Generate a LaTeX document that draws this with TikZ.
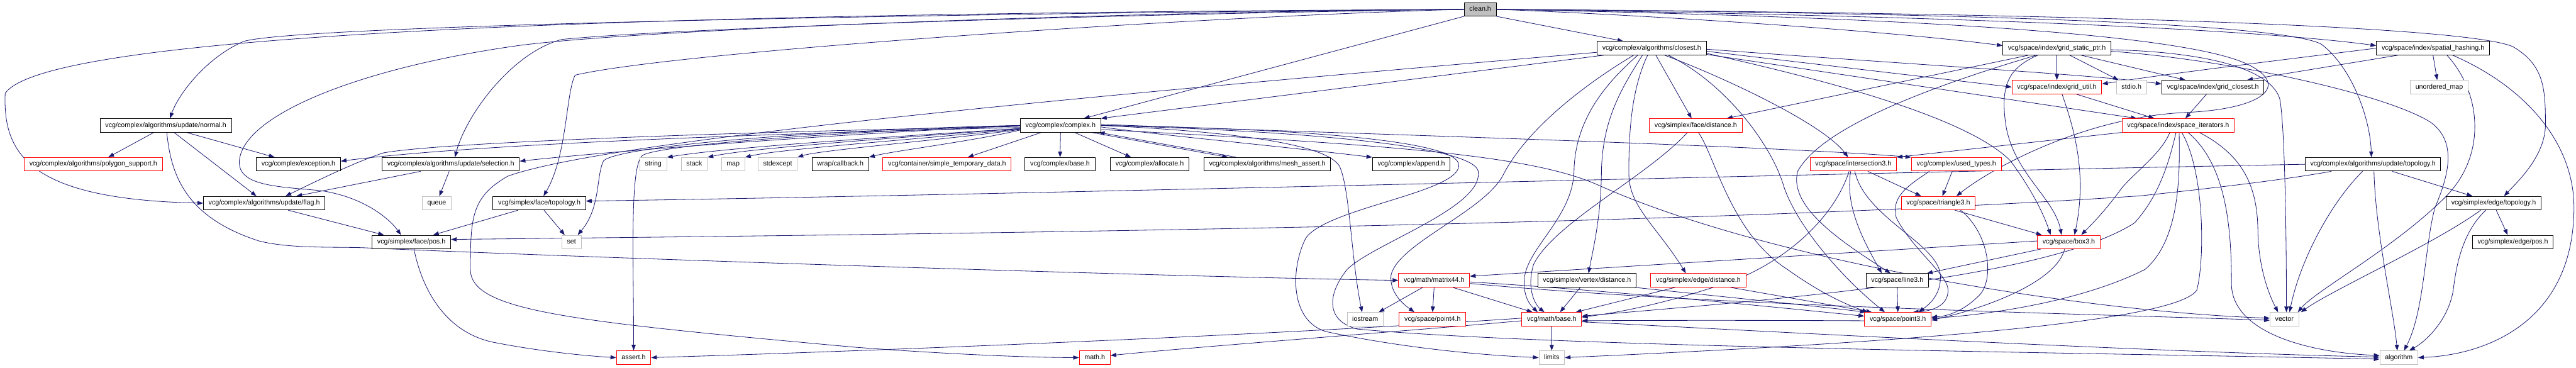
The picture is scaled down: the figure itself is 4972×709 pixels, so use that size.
\documentclass[tikz,border=0pt]{standalone}
\usepackage{fontspec}
\newfontfamily\dfont{Liberation Sans}
\usetikzlibrary{arrows.meta,backgrounds}
\definecolor{edgec}{HTML}{191970}
\definecolor{redb}{HTML}{FF0000}
\definecolor{grayb}{HTML}{BFBFBF}
\begin{document}
\begin{tikzpicture}[x=1pt,y=-1pt,
  nb/.style={draw=black,line width=1.2pt,fill=white,font={\dfont\fontsize{13}{15}\selectfont},
    inner xsep=10pt,inner ysep=0pt,minimum height=26pt,text height=9.5pt,text depth=2.7pt},
  nr/.style={nb,draw=redb},
  ng/.style={nb,draw=grayb,line width=1pt},
  e/.style={draw=edgec,line width=1pt,-{Triangle[length=11pt,width=8pt]}}]
\useasboundingbox (0,0) rectangle (4972,709);
% nodes
\node[nb,fill=grayb] (clean) at (2857,18) {clean.h};
\node[nb] (closest) at (3188,93) {vcg/complex/algorithms/closest.h};
\node[nb] (gsp) at (3970,93) {vcg/space/index/grid\_static\_ptr.h};
\node[nb] (sph) at (4696,93) {vcg/space/index/spatial\_hashing.h};
\node[nr] (gutil) at (3970,168) {vcg/space/index/grid\_util.h};
\node[ng] (stdio) at (4114,168) {stdio.h};
\node[nb] (gclosest) at (4271,168) {vcg/space/index/grid\_closest.h};
\node[ng] (umap) at (4708,168) {unordered\_map};
\node[nb] (normal) at (320,242) {vcg/complex/algorithms/update/normal.h};
\node[nb] (complex) at (2047,242) {vcg/complex/complex.h};
\node[nr] (fdist) at (3273,242) {vcg/simplex/face/distance.h};
\node[nr] (spit) at (4204,242) {vcg/space/index/space\_iterators.h};
\node[nr] (polysup) at (180,317) {vcg/complex/algorithms/polygon\_support.h};
\node[nb] (exception) at (576,317) {vcg/complex/exception.h};
\node[nb] (selection) at (870,317) {vcg/complex/algorithms/update/selection.h};
\node[ng] (string) at (1261,317) {string};
\node[ng] (stack) at (1340,317) {stack};
\node[ng] (map) at (1415,317) {map};
\node[ng] (stdexcept) at (1501,317) {stdexcept};
\node[nb] (callback) at (1622,317) {wrap/callback.h};
\node[nr] (simpletemp) at (1828,317) {vcg/container/simple\_temporary\_data.h};
\node[nb] (cbase) at (2046,317) {vcg/complex/base.h};
\node[nb] (allocate) at (2219,317) {vcg/complex/allocate.h};
\node[nb] (meshassert) at (2446,317) {vcg/complex/algorithms/mesh\_assert.h};
\node[nb] (append) at (2724,317) {vcg/complex/append.h};
\node[nr] (inter3) at (3577,317) {vcg/space/intersection3.h};
\node[nr] (usedtypes) at (3776,317) {vcg/complex/used\_types.h};
\node[nb] (utopo) at (4580,317) {vcg/complex/algorithms/update/topology.h};
\node[nb] (flag) at (510,392) {vcg/complex/algorithms/update/flag.h};
\node[ng] (queue) at (843,392) {queue};
\node[nb] (ftopo) at (1041,392) {vcg/simplex/face/topology.h};
\node[nr] (tri3) at (3741,392) {vcg/space/triangle3.h};
\node[nb] (etopo) at (4813,392) {vcg/simplex/edge/topology.h};
\node[nb] (fpos) at (794,467) {vcg/simplex/face/pos.h};
\node[ng] (set) at (1103,467) {set};
\node[nr] (box3) at (3993,467) {vcg/space/box3.h};
\node[nb] (epos) at (4850,467) {vcg/simplex/edge/pos.h};
\node[nr] (m44) at (2768,541) {vcg/math/matrix44.h};
\node[nb] (vdist) at (3063,541) {vcg/simplex/vertex/distance.h};
\node[nr] (edist) at (3278,541) {vcg/simplex/edge/distance.h};
\node[nb] (line3) at (3662,541) {vcg/space/line3.h};
\node[ng] (iostream) at (2635,616) {iostream};
\node[nr] (point4) at (2765,616) {vcg/space/point4.h};
\node[nr] (mbase) at (2995,616) {vcg/math/base.h};
\node[nr] (point3) at (3663,616) {vcg/space/point3.h};
\node[ng] (vector) at (4409,616) {vector};
\node[nr] (assert) at (1223,690) {assert.h};
\node[nr] (math) at (2113,690) {math.h};
\node[ng] (limits) at (2995,690) {limits};
\node[ng] (algorithm) at (4630,690) {algorithm};
\begin{scope}[on background layer]
% clean.h
\draw[e] (clean.west) .. controls (1500,25) and (100,50) .. (10,180) .. controls (5,300) and (60,385) .. (flag.west);
\draw[e] (clean.west) .. controls (1600,28) and (560,52) .. (470,80) .. controls (400,110) and (345,180) .. ([xshift=8pt]normal.north);
\draw[e] (clean.west) .. controls (2200,22) and (1250,55) .. (1000,88) .. controls (700,130) and (470,220) .. (462,310) .. controls (458,360) and (540,360) .. (620,368) .. controls (700,380) and (750,420) .. ([xshift=-20pt]fpos.north);
\draw[e] (clean.west) .. controls (2100,28) and (1300,55) .. (1085,76) .. controls (990,100) and (900,220) .. ([xshift=8pt]selection.north);
\draw[e] (clean.west) .. controls (2300,32) and (1300,100) .. (1110,145) .. controls (1092,180) and (1095,300) .. ([xshift=8pt]ftopo.north);
\draw[e] (clean.south west) -- ([xshift=45pt]complex.north);
\draw[e] (clean.south east) -- ([xshift=-55pt]closest.north);
\draw[e] (clean.east) .. controls (3200,30) and (3650,60) .. ([yshift=5pt]gsp.west);
\draw[e] (clean.east) .. controls (3600,28) and (4300,50) .. ([yshift=5pt]sph.west);
\draw[e] (clean.east) .. controls (3800,25) and (4400,45) .. (4480,85) .. controls (4540,130) and (4575,230) .. ([xshift=-3pt]utopo.north);
\draw[e] (clean.east) .. controls (4000,25) and (4760,50) .. (4850,90) .. controls (4910,125) and (4913,170) .. (4913,240) .. controls (4913,300) and (4860,350) .. ([xshift=20pt]etopo.north);
\draw[e] (clean.east) .. controls (3500,30) and (4200,55) .. (4340,125) .. controls (4420,165) and (4370,210) .. (4220,217) .. controls (4030,225) and (3850,320) .. ([xshift=35pt]tri3.north);
% normal.h
\draw[e] ([xshift=-23pt]normal.south) -- ([xshift=29pt]polysup.north);
\draw[e] ([xshift=40pt]normal.south) -- ([xshift=-46pt]exception.north);
\draw[e] ([xshift=16pt]normal.south) -- ([xshift=-15pt]flag.north);
\draw[e] ([xshift=2pt]normal.south) .. controls (330,340) and (360,420) .. (500,465) .. controls (560,480) and (640,476) .. (700,478) .. controls (1200,500) and (2300,535) .. (m44.west);
% complex.h
\draw[e] ([yshift=-2pt]complex.west) .. controls (1400,255) and (850,275) .. (740,295) .. controls (680,315) and (610,350) .. ([xshift=41pt]flag.north);
\draw[e] ([yshift=-4pt]complex.west) .. controls (1400,260) and (900,280) .. ([yshift=6pt]exception.east);
\draw[e] (complex.west) .. controls (1600,260) and (1200,290) .. ([yshift=6pt]selection.east);
\draw[e] ([yshift=-6pt]complex.west) .. controls (1700,265) and (1400,285) .. (string.north east);
\draw[e] ([yshift=-6pt]complex.west) .. controls (1750,265) and (1450,285) .. (stack.north east);
\draw[e] ([yshift=-7pt]complex.west) .. controls (1780,268) and (1500,288) .. (map.north east);
\draw[e] ([yshift=-8pt]complex.west) .. controls (1820,270) and (1580,290) .. (stdexcept.north east);
\draw[e] ([yshift=-9pt]complex.west) .. controls (1880,272) and (1720,292) .. (callback.north east);
\draw[e] ([xshift=-37pt]complex.south) -- ([xshift=40pt]simpletemp.north);
\draw[e] (complex.south) -- (cbase.north);
\draw[e] ([xshift=27pt]complex.south) -- ([xshift=-36pt]allocate.north);
\draw[e] ([xshift=60pt]complex.south) -- ([xshift=-76pt]meshassert.north);
\draw[e] ([xshift=-60pt]meshassert.north) -- ([xshift=-4pt]complex.south east);
\draw[e] ([yshift=-3pt]complex.east) .. controls (2250,262) and (2450,280) .. (append.north west);
\draw[e] (complex.west) .. controls (1600,250) and (1200,280) .. (1165,310) .. controls (1150,340) and (1160,400) .. ([xshift=12pt]set.north);
\draw[e] (complex.west) .. controls (1600,255) and (1270,280) .. (1240,300) .. controls (1215,320) and (1223,500) .. (assert.north);
\draw[e] (complex.east) .. controls (2400,255) and (2560,280) .. (2585,320) .. controls (2605,360) and (2608,500) .. ([xshift=-6pt]iostream.north);
\draw[e] (complex.east) .. controls (2500,248) and (2800,270) .. (2815,315) .. controls (2830,370) and (2560,400) .. (2520,460) .. controls (2490,520) and (2490,620) .. (2560,640) .. controls (2700,670) and (2850,685) .. (limits.west);
\draw[e] (complex.east) .. controls (2500,252) and (2840,280) .. (2853,330) .. controls (2865,400) and (2650,470) .. (2600,520) .. controls (2560,570) and (2560,620) .. (2620,635) .. controls (3000,670) and (4000,680) .. ([yshift=-3pt]algorithm.west);
\draw[e] ([yshift=-8pt]complex.east) .. controls (2700,280) and (2950,300) .. (3080,355) .. controls (3400,500) and (4000,600) .. ([yshift=2pt]vector.west);
\draw[e] ([yshift=2pt]complex.east) .. controls (2600,258) and (3400,280) .. (usedtypes.north west);
% selection, flag, face
\draw[e] ([xshift=-58pt]selection.south) -- ([xshift=62pt]flag.north);
\draw[e] ([xshift=-3pt]selection.south) -- ([xshift=5pt]queue.north);
\draw[e] ([xshift=46pt]flag.south) -- ([xshift=-53pt]fpos.north);
\draw[e] ([xshift=-41pt]ftopo.south) -- ([xshift=42pt]fpos.north);
\draw[e] ([xshift=9pt]ftopo.south) -- ([xshift=-13pt]set.north);
\draw[e] ([xshift=5pt]fpos.south) .. controls (815,560) and (860,640) .. (950,660) .. controls (1050,680) and (1150,688) .. (assert.west);
% closest.h
\draw[e] ([xshift=-93pt]closest.south) -- (complex.north east);
\draw[e] ([yshift=-8pt]closest.west) .. controls (2400,160) and (1200,260) .. (980,340) .. controls (910,380) and (908,420) .. (908,520) .. controls (908,600) and (1100,620) .. (1650,670) .. controls (1850,685) and (2000,690) .. (math.west);
\draw[e] ([xshift=8pt]closest.south) -- ([xshift=-8pt]fdist.north);
\draw[e] ([xshift=-35pt]closest.south) .. controls (3080,150) and (2950,240) .. (2900,340) .. controls (2860,410) and (2700,470) .. (2685,530) .. controls (2680,570) and (2720,595) .. ([xshift=-35pt]point4.north);
\draw[e] ([xshift=-27pt]closest.south) .. controls (3100,160) and (3040,230) .. (3038,330) .. controls (3036,420) and (2945,480) .. (2942,540) .. controls (2940,575) and (2955,590) .. ([xshift=-27pt]mbase.north);
\draw[e] ([xshift=-18pt]closest.south) .. controls (3130,170) and (3093,230) .. (3091,330) .. controls (3090,420) and (3075,480) .. ([xshift=3pt]vdist.north);
\draw[e] ([xshift=-8pt]closest.south) .. controls (3150,170) and (3143,250) .. (3144,340) .. controls (3146,400) and (3200,440) .. ([xshift=-24pt]edist.north);
\draw[e] ([xshift=25pt]closest.south) .. controls (3330,150) and (3520,240) .. ([xshift=-10pt]inter3.north);
\draw[e] ([xshift=32pt]closest.south) .. controls (3330,160) and (3420,280) .. (3443,360) .. controls (3470,440) and (3560,540) .. ([xshift=-25pt]point3.north);
\draw[e] ([yshift=-6pt]closest.east) -- (gutil.west);
\draw[e] ([yshift=-2pt]closest.east) .. controls (3700,125) and (4050,145) .. ([yshift=6pt]gclosest.west);
\draw[e] ([yshift=-12pt]closest.east) -- ([xshift=-80pt]spit.north);
\draw[e] ([yshift=-10pt]closest.east) .. controls (3550,160) and (3800,230) .. (3880,310) .. controls (3910,350) and (3940,400) .. ([xshift=-35pt]box3.north);
% grid_static_ptr.h
\draw[e] (gsp.south) -- (gutil.north);
\draw[e] ([xshift=25pt]gsp.south) -- ([xshift=-25pt]stdio.north);
\draw[e] ([xshift=47pt]gsp.south) -- ([xshift=-53pt]gclosest.north);
\draw[e] ([xshift=-55pt]gsp.south) -- ([xshift=60pt]fdist.north);
\draw[e] ([xshift=-37pt]gsp.south) .. controls (3880,130) and (3862,160) .. (3870,230) .. controls (3880,330) and (3965,380) .. ([xshift=-14pt]box3.north);
\draw[e] ([xshift=-40pt]gsp.south) .. controls (3750,160) and (3520,240) .. (3470,330) .. controls (3450,400) and (3560,470) .. ([xshift=-13pt]line3.north);
\draw[e] ([yshift=-3pt]gsp.east) .. controls (4250,100) and (4380,130) .. (4400,190) .. controls (4410,240) and (4413,450) .. ([xshift=4pt]vector.north);
\draw[e] ([yshift=-6pt]gsp.east) .. controls (4300,115) and (4600,180) .. (4690,235) .. controls (4740,270) and (4730,330) .. (4700,400) .. controls (4680,470) and (4680,600) .. ([xshift=10pt]algorithm.north);
% spatial_hashing.h
\draw[e] (sph.west) .. controls (4450,110) and (4200,140) .. ([yshift=6pt]gutil.east);
\draw[e] ([xshift=-68pt]sph.south) -- ([xshift=66pt]gclosest.north);
\draw[e] (sph.south) -- ([xshift=-4pt]umap.north);
\draw[e] ([xshift=27pt]sph.south) .. controls (4790,180) and (4800,300) .. (4720,380) .. controls (4620,480) and (4470,560) .. ([xshift=26pt]vector.north);
\draw[e] ([xshift=38pt]sph.south) .. controls (4880,170) and (4968,280) .. (4968,400) .. controls (4968,620) and (4800,685) .. (algorithm.east);
% grid
\draw[e] ([xshift=10pt]gutil.south) .. controls (4000,240) and (4030,330) .. ([xshift=11pt]box3.north);
\draw[e] ([xshift=37pt]gutil.south) -- ([xshift=-46pt]spit.north);
\draw[e] ([xshift=-12pt]gclosest.south) -- ([xshift=14pt]spit.north);
% space_iterators.h
\draw[e] (spit.south west) -- (inter3.north east);
\draw[e] ([xshift=-16pt]spit.south) .. controls (4170,300) and (4110,340) .. (4090,370) .. controls (4060,410) and (4040,430) .. ([xshift=24pt]box3.north);
\draw[e] ([xshift=-4pt]spit.south) .. controls (4185,320) and (4165,380) .. (4120,430) .. controls (3950,540) and (3400,580) .. ([yshift=6pt]mbase.east);
\draw[e] ([xshift=2pt]spit.south) .. controls (4207,330) and (4210,460) .. (4140,520) .. controls (4000,590) and (3800,610) .. ([yshift=2pt]point3.east);
\draw[e] ([xshift=7pt]spit.south) .. controls (4255,330) and (4256,500) .. (4240,560) .. controls (4200,620) and (3700,660) .. (limits.east);
\draw[e] ([xshift=19pt]spit.south) .. controls (4300,320) and (4307,450) .. (4307,550) .. controls (4310,640) and (4450,680) .. ([yshift=4pt]algorithm.west);
\draw[e] ([xshift=41pt]spit.south) .. controls (4330,300) and (4358,360) .. (4358,450) .. controls (4360,520) and (4380,570) .. ([xshift=-12pt]vector.north);
% update/topology.h
\draw[e] (utopo.west) .. controls (3500,335) and (2000,375) .. ([yshift=4pt]ftopo.east);
\draw[e] ([xshift=-80pt]utopo.south) .. controls (4420,345) and (4300,360) .. (4130,378) .. controls (3300,433) and (2000,450) .. ([yshift=5pt]fpos.east);
\draw[e] ([xshift=37pt]utopo.south) -- ([xshift=-41pt]etopo.north);
\draw[e] ([xshift=-20pt]utopo.south) .. controls (4500,390) and (4440,500) .. ([xshift=10pt]vector.north);
\draw[e] ([xshift=2pt]utopo.south) .. controls (4585,450) and (4620,600) .. ([xshift=-3pt]algorithm.north);
% edge/topology.h
\draw[e] ([xshift=5pt]etopo.south) -- ([xshift=-10pt]epos.north);
\draw[e] ([xshift=-25pt]etopo.south) .. controls (4700,470) and (4500,560) .. ([xshift=32pt]vector.north);
\draw[e] ([xshift=-15pt]etopo.south) .. controls (4750,450) and (4740,520) .. (4735,560) .. controls (4725,620) and (4680,660) .. ([xshift=20pt]algorithm.north);
% face/distance.h
\draw[e] ([xshift=-16pt]fdist.south) .. controls (3180,340) and (3000,430) .. (2960,510) .. controls (2945,560) and (2965,590) .. ([xshift=-14pt]mbase.north);
\draw[e] ([xshift=5pt]fdist.south) .. controls (3310,300) and (3340,450) .. (3450,520) .. controls (3520,570) and (3570,590) .. ([xshift=-58pt]point3.north);
% intersection3.h
\draw[e] ([xshift=28pt]inter3.south) -- ([xshift=-33pt]tri3.north);
\draw[e] ([xshift=-5pt]inter3.south) .. controls (3560,400) and (3600,470) .. ([xshift=-30pt]line3.north);
\draw[e] ([xshift=3pt]inter3.south) .. controls (3600,420) and (3740,470) .. (3745,530) .. controls (3748,570) and (3720,590) .. ([xshift=40pt]point3.north);
\draw[e] ([xshift=-8pt]inter3.south) .. controls (3540,420) and (3450,500) .. (3350,540) .. controls (3250,575) and (3150,600) .. ([yshift=4pt]mbase.east);
% used_types.h
\draw[e] ([xshift=-52pt]usedtypes.south) .. controls (3680,360) and (3650,380) .. (3660,420) .. controls (3690,480) and (3760,530) .. (3760,560) .. controls (3760,590) and (3730,600) .. ([xshift=29pt]point3.north);
\draw[e] ([xshift=-8pt]usedtypes.south) -- ([xshift=8pt]tri3.north);
% triangle3.h
\draw[e] ([xshift=32pt]tri3.south) -- ([xshift=-52pt]box3.north);
\draw[e] ([xshift=43pt]tri3.south) .. controls (3840,450) and (3850,540) .. (3820,570) .. controls (3790,600) and (3760,610) .. ([yshift=4pt]point3.east);
% box3.h
\draw[e] ([xshift=-8pt]box3.south) .. controls (3970,540) and (3850,590) .. ([yshift=-2pt]point3.east);
\draw[e] ([xshift=-54pt]box3.south) -- ([xshift=57pt]line3.north);
\draw[e] ([yshift=2pt]box3.west) -- ([yshift=8pt]m44.east);
% line3.h
\draw[e] (line3.south) -- (point3.north);
% matrix44.h
\draw[e] ([xshift=-22pt]m44.south) -- ([xshift=26pt]iostream.north);
\draw[e] (m44.south) -- (point4.north);
\draw[e] ([xshift=36pt]m44.south) -- ([xshift=-37pt]mbase.north);
\draw[e] ([yshift=-3pt]m44.east) .. controls (3100,560) and (3400,590) .. ([yshift=6pt]point3.west);
\draw[e] ([yshift=-6pt]m44.east) .. controls (3300,590) and (4000,605) .. ([yshift=-2pt]vector.west);
% vertex/edge distance
\draw[e] ([xshift=-13pt]vdist.south) -- ([xshift=16pt]mbase.north);
\draw[e] ([xshift=-3pt]vdist.south east) .. controls (3300,570) and (3500,590) .. ([xshift=-62pt]point3.north);
\draw[e] ([xshift=-45pt]edist.south) -- ([xshift=-12pt]mbase.north east);
\draw[e] ([xshift=62pt]edist.south) -- ([xshift=-50pt]point3.north);
% point3.h
\draw[e] ([yshift=-3pt]point3.west) .. controls (3400,618) and (3200,618) .. ([yshift=-3pt]mbase.east);
% math/base.h
\draw[e] (mbase.south) -- (limits.north);
\draw[e] ([yshift=-3pt]mbase.west) .. controls (2700,640) and (2300,670) .. ([yshift=4pt]math.east);
\draw[e] ([yshift=2pt]mbase.west) .. controls (2400,650) and (1600,680) .. (assert.east);
\draw[e] ([yshift=-5pt]mbase.east) .. controls (3600,650) and (4200,680) .. ([yshift=1pt]algorithm.west);
\end{scope}
\end{tikzpicture}
\end{document}
